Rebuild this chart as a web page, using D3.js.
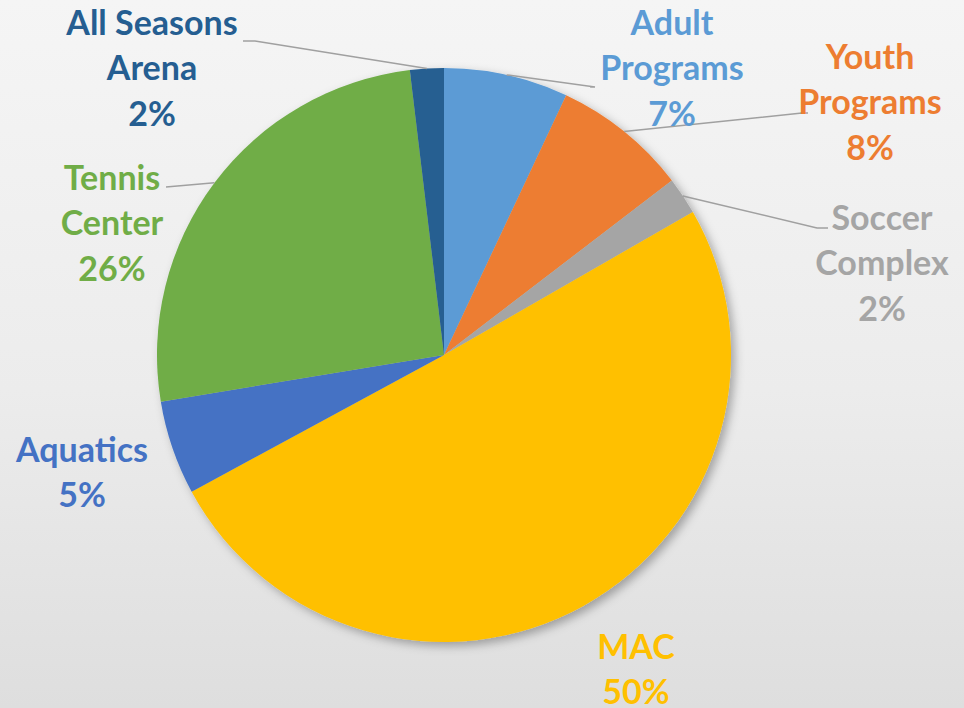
<!DOCTYPE html>
<html><head><meta charset="utf-8">
<script src="https://cdn.jsdelivr.net/npm/d3@7"></script>
<style>html,body{margin:0;padding:0;}svg{display:block;}</style>
</head><body>
<svg id="c" width="964" height="708"></svg>
<script>
// Data
const categories = ["Adult Programs","Youth Programs","Soccer Complex","MAC","Aquatics","Tennis Center","All Seasons Arena"];
const values = [7.0, 7.6, 2.1, 50.4, 5.3, 25.7, 1.9];
const labelText = ["7%","8%","2%","50%","5%","26%","2%"];
const colors = ["#5B9BD5","#ED7D31","#A5A5A5","#FFC000","#4472C4","#70AD47","#255E91"];

// Label layout (positions, not data)
const labelLines = [["Adult","Programs"],["Youth","Programs"],["Soccer","Complex"],["MAC"],["Aquatics"],["Tennis","Center"],["All Seasons","Arena"]];
const labelPos = [[672,23],[870,57],[882,218],[636,647],[82,450],[112,178],[152,23]];
const leaderEnd = [[[595,87],[590,87]],[[802,113],[808,113]],[[817,228],[828,228]],null,null,[[166,187],[166,187]],[[255,41],[243,41]]];

const W=964,H=708, cx=444, cy=355, R=287, lh=45.5;
const svg=d3.select("#c");
const defs=svg.append("defs");
const g0=defs.append("linearGradient").attr("id","bg").attr("x1",0).attr("y1",0).attr("x2",0).attr("y2",1);
g0.append("stop").attr("offset","0%").attr("stop-color","#f5f5f5");
g0.append("stop").attr("offset","55%").attr("stop-color","#ececec");
g0.append("stop").attr("offset","100%").attr("stop-color","#dedede");
const f=defs.append("filter").attr("id","sh").attr("x","-20%").attr("y","-20%").attr("width","140%").attr("height","140%");
f.append("feDropShadow").attr("dx",4).attr("dy",4).attr("stdDeviation",5).attr("flood-color","#000").attr("flood-opacity",0.3);
svg.append("rect").attr("width",W).attr("height",H).attr("fill","url(#bg)");

const pie=d3.pie().sort(null).value(d=>d)(values);
const arc=d3.arc().innerRadius(0).outerRadius(R);
const g=svg.append("g").attr("transform",`translate(${cx},${cy})`);
g.append("g").attr("filter","url(#sh)").selectAll("path").data(pie).join("path")
  .attr("d",arc).attr("fill",(d,i)=>colors[i]);

// leader lines
pie.forEach((d,i)=>{
  if(!leaderEnd[i]) return;
  const a=(d.startAngle+d.endAngle)/2;
  const x0=cx+R*Math.sin(a), y0=cy-R*Math.cos(a);
  const pts=[[x0,y0],...leaderEnd[i]];
  svg.append("path").attr("d",d3.line()(pts)).attr("fill","none").attr("stroke","#a0a0a0").attr("stroke-width",1.5);
});

// labels
categories.forEach((c,i)=>{
  const lines=[...labelLines[i],labelText[i]];
  const t=svg.append("text").attr("text-anchor","middle").attr("fill",colors[i])
    .attr("font-family","Lato, 'Open Sans', sans-serif").attr("font-weight","bold").attr("font-size",34);
  lines.forEach((l,k)=>{
    t.append("tspan").attr("x",labelPos[i][0]).attr("y",labelPos[i][1]+k*lh).attr("dy","0.35em").text(l);
  });
});
</script>
</body></html>
